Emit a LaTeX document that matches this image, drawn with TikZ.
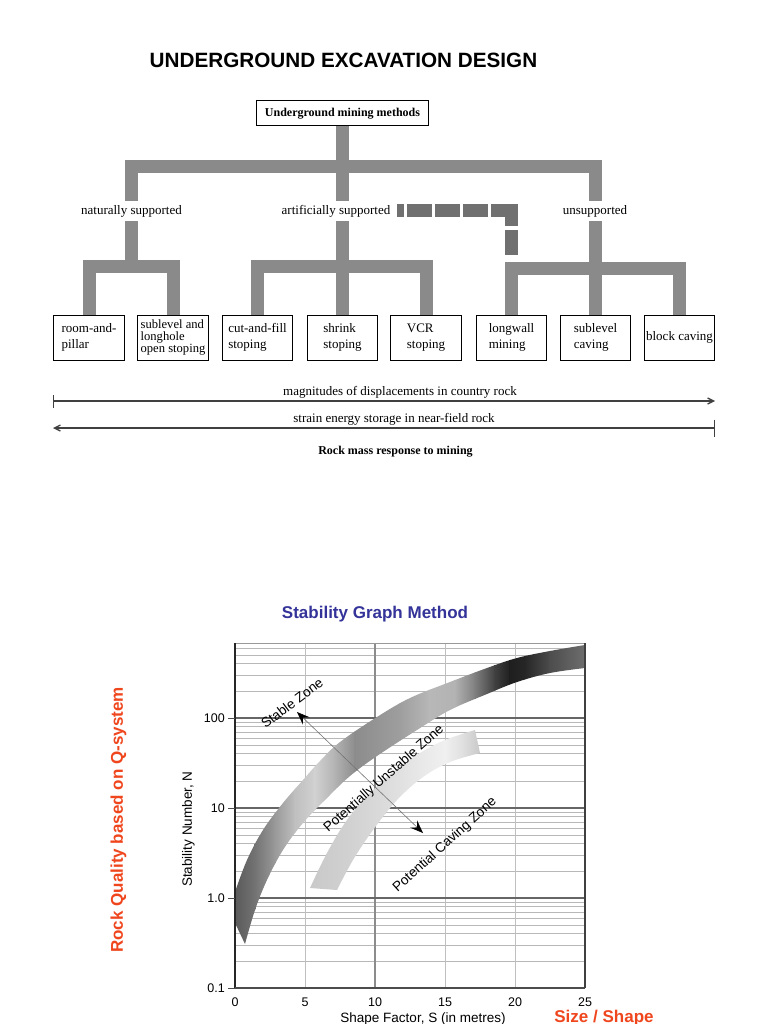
\documentclass[tikz,border=0pt]{standalone}
\usepackage{fontspec}
\setmainfont{Liberation Serif}
\newfontfamily\hv{Liberation Sans}
\usetikzlibrary{arrows.meta}
\definecolor{barc}{RGB}{138,138,138}
\definecolor{barcd}{RGB}{112,112,112}
\definecolor{qred}{RGB}{240,70,30}
\definecolor{tblue}{RGB}{51,51,153}
\tikzset{
  bar/.style={line width=13pt, draw=barc, line join=miter, line cap=butt},
  dashbar/.style={line width=13pt, draw=barcd, line join=miter, line cap=butt,
    dash pattern=on 7pt off 3pt on 25pt off 3pt on 25pt off 3pt on 25pt off 3pt on 36pt off 4pt on 25pt off 20pt},
  topbox/.style={draw, line width=1pt, minimum width=172pt, minimum height=25pt, inner sep=0pt,
    font=\bfseries\fontsize{12}{14}\selectfont},
  lab/.style={inner xsep=2pt, inner ysep=4pt, font=\fontsize{13}{15}\selectfont},
  mbox/.style={draw, line width=0.9pt, minimum width=70.5pt, minimum height=45pt, inner sep=0pt,
    align=left, font=\fontsize{13}{15.5}\selectfont},
  rline/.style={draw=black!75, line width=1.3pt},
  minorg/.style={draw=black!28, line width=0.8pt},
  majorg/.style={draw=black!60, line width=1.1pt},
  vgrid/.style={draw=black!25, line width=0.9pt},
  ticklab/.style={font=\hv\fontsize{12.5}{14}\selectfont, inner sep=1pt},
  zonelab/.style={font=\hv\fontsize{13.6}{16}\selectfont, inner sep=0pt},
  ztip/.style={},
}
\begin{document}
\begin{tikzpicture}[x=1pt,y=-1pt]
\useasboundingbox (0,0) rectangle (768,1024);
\fill[white] (0,0) rectangle (768,1024);

% ---------------- Title
\node[font=\hv\bfseries\fontsize{20.7}{24}\selectfont] (title) at (343.5,60) {UNDERGROUND EXCAVATION DESIGN};

% ---------------- Tree nodes
\node[topbox] (top) at (342.5,113.5) {Underground mining methods};
\node[lab] (ns) at (131.5,211) {naturally supported};
\node[lab] (as) at (336,211) {artificially supported};
\node[lab] (us) at (595,211) {unsupported};

\node[mbox] (rp)  at (89,337.5)    {room-and-\\pillar};
\node[mbox, font=\fontsize{12.6}{12.3}\selectfont] (sl) at (173,337.5) {sublevel and\\longhole\\open stoping};
\node[mbox] (cf)  at (257.5,337.5) {cut-and-fill\\stoping};
\node[mbox] (sh)  at (342.5,337.5) {shrink\\stoping};
\node[mbox] (vcr) at (426,337.5)   {VCR\\stoping};
\node[mbox] (lw)  at (511.5,337.5) {longwall\\mining};
\node[mbox] (slc) at (595.5,337.5) {sublevel\\caving};
\node[mbox] (bc)  at (679.5,337.5) {block caving};

% ---------------- Tree connectors
\coordinate (h1) at (342.5,166.5);
\coordinate (h2) at (131.5,266);
\coordinate (h3) at (595.5,268.5);
\draw[bar] (top.south) -- (h1);
\draw[bar] (ns.north) |- (h1) -| (us.north);
\draw[bar] (h1) -- (h1 |- as.north);
\draw[bar] (ns.south) -- (h2);
\draw[bar] (rp.north) |- (h2) -| (sl.north);
\draw[bar] (sh.north |- as.south) -- (sh.north);
\draw[bar] (cf.north) |- (sh.north |- h2) -| (vcr.north);
\draw[bar] (us.south -| slc.north) -- (slc.north);
\draw[bar] (lw.north) |- (h3) -| (bc.north);
\coordinate (d0) at (397,210.5);
\draw[dashbar] (d0) -| (lw.north |- h3);

% ---------------- Rock mass response arrows
\coordinate (a1l) at (53,401);
\coordinate (a1r) at (715,401);
\coordinate (a2l) at (53,428);
\coordinate (a2r) at (715,428);
\draw[rline, {Bar[width=13pt]}-{Straight Barb[length=6pt,width=6pt]}] (a1l) -- (a1r);
\draw[rline, {Straight Barb[length=6pt,width=6pt]}-{Bar[width=17pt]}] (a2l) -- (a2r);
\node[font=\fontsize{13}{15}\selectfont] (m1) at (400,392) {magnitudes of displacements in country rock};
\node[font=\fontsize{13}{15}\selectfont] (m2) at (394,419) {strain energy storage in near-field rock};
\node[font=\bfseries\fontsize{12}{14}\selectfont] (m3) at (395.5,452) {Rock mass response to mining};

% ---------------- Stability graph
\node[font=\hv\bfseries\fontsize{17}{20}\selectfont, text=tblue, anchor=base] (sgm) at (375,618) {Stability Graph Method};

% grid
\foreach \e in {-1,0,1,2} {
  \foreach \k in {2,...,9} {
    \pgfmathsetmacro\yy{898-90*(\e+log10(\k))}
    \ifdim\yy pt>643.5pt \draw[minorg] (235,\yy) -- (585,\yy); \fi
  }
}
\foreach \xx in {305,445,515} { \draw[vgrid] (\xx,643) -- (\xx,988); }
\draw[draw=black!45, line width=1.1pt] (375,643) -- (375,988);
\foreach \yy in {898,808,718} { \draw[majorg] (235,\yy) -- (585,\yy); }
\draw[draw=black!40, line width=0.8pt] (235,643) -- (585,643);

% band 1 (stable / potentially unstable boundary)
\begin{scope}
\clip plot[smooth, tension=0.6] coordinates {(235,892) (247,860) (263,830) (283,803) (303,780) (320,761) (340,742) (377,717) (410,698) (450,682) (487,668) (517,658) (550,651) (585,645)}
  -- (585,668)
  -- plot[smooth, tension=0.6] coordinates {(585,668) (550,673) (517,682) (487,694) (450,710) (417,730) (377,756) (350,776) (327,798) (303,823) (283,850) (267,880) (255,910) (245,944)}
  -- (236,925) -- cycle;
\foreach \xa/\ga/\xb/\gb in {230/33/255/45, 255/45/275/60, 275/60/295/75, 295/75/315/82, 315/82/335/70,
  335/70/355/55, 355/55/375/58, 375/58/400/62, 400/62/430/72, 430/72/455/70, 455/70/475/50,
  475/50/495/25, 495/25/510/12, 510/12/525/15, 525/15/550/30, 550/30/590/45} {
  \shade[left color=white!\ga!black, right color=white!\gb!black] (\xa-0.4,640) rectangle (\xb+0.4,950);
}
\end{scope}

% band 2 (potentially unstable / caving boundary)
\begin{scope}
\clip plot[smooth, tension=0.6] coordinates {(310,888) (327,853) (347,820) (372,791) (397,769) (420,753) (445,740) (475,730)}
  -- (480,753)
  -- plot[smooth, tension=0.6] coordinates {(480,753) (450,762) (423,777) (397,800) (373,830) (353,860) (337,890)}
  -- cycle;
\foreach \xa/\ga/\xb/\gb in {300/78/350/82, 350/82/385/86, 385/86/420/91, 420/91/445/94, 445/94/462/88, 462/88/485/76} {
  \shade[left color=white!\ga!black, right color=white!\gb!black] (\xa-0.4,720) rectangle (\xb+0.4,900);
}
\end{scope}

% frame
\draw[draw=black!85, line width=1.6pt] (235,643) -- (235,988);
\draw[draw=black!70, line width=1.2pt] (235,988) -- (585,988);
\draw[draw=black!75, line width=1.8pt] (585,643) -- (585,988);
\foreach \yy in {718,808,898,988} { \draw[draw=black!70, line width=1pt] (228,\yy) -- (235,\yy); }

% tick labels
\node[ticklab, anchor=east] (y100) at (226,718) {100};
\node[ticklab, anchor=east] (y10)  at (226,808) {10};
\node[ticklab, anchor=east] (y1)   at (226,898) {1.0};
\node[ticklab, anchor=east] (y01)  at (226,988) {0.1};
\foreach \s in {0,5,10,15,20,25} {
  \node[ticklab] (x\s) at (235+14*\s,1002) {\s};
}

% axis titles
\node[font=\hv\fontsize{13.5}{16}\selectfont, anchor=base] (xt) at (423,1022.5) {Shape Factor, S (in metres)};
\node[font=\hv\bfseries\fontsize{17}{20}\selectfont, text=qred, anchor=base] (ss) at (604,1022.3) {Size / Shape};
\node[font=\hv\fontsize{13.5}{16}\selectfont, rotate=90] (yt) at (188.5,829) {Stability Number, N};
\node[font=\hv\bfseries\fontsize{17}{20}\selectfont, text=qred, rotate=90] (rq) at (118.5,820) {Rock Quality based on Q-system};

% zone labels and arrow
\node[zonelab, rotate=37] (sz) at (292,703) {Stable Zone};
\node[zonelab, rotate=41.5] (puz) at (384,779) {Potentially Unstable Zone};
\node[zonelab, rotate=42] (pcz) at (445,845) {Potential Caving Zone};
\coordinate (arA) at (297,712);
\coordinate (arB) at (423,833);
\draw[draw=black!55, line width=0.6pt, {Stealth[length=13pt,width=10pt,inset=5pt,color=black,fill=black]}-{Stealth[length=13pt,width=10pt,inset=5pt,color=black,fill=black]}] (arA) -- (arB);

\end{tikzpicture}
\end{document}
